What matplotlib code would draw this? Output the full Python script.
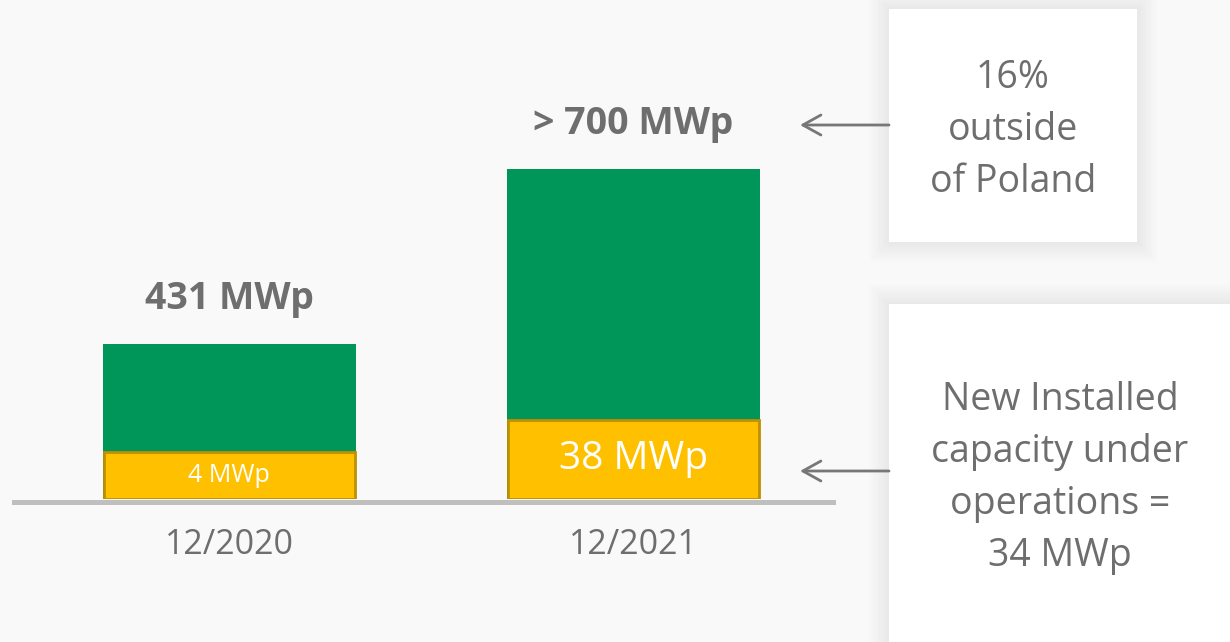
import matplotlib.pyplot as plt
from matplotlib.patches import Rectangle

# schematic chart: bar heights are read off the picture (not to scale)
periods = ['12/2020', '12/2021']
total_labels = ['431 MWp', '> 700 MWp']
new_labels = ['4 MWp', '38 MWp']
total_height = [155, 330]
new_height = [47, 79]

note_top = '16%\noutside\nof Poland'
note_bottom = 'New Installed\ncapacity under\noperations =\n34 MWp'

GREEN = '#00965a'
YELLOW = '#ffc000'
YELLOW_EDGE = '#bf9000'
GREY_TXT = '#6e6e6e'
BG = '#f9f9f9'

plt.rcParams['font.family'] = ['Open Sans', 'DejaVu Sans']


def shadow_box(ax, x, y, w, h):
    # soft shadow made of a few faint, growing rectangles
    for i in range(8, 0, -1):
        ax.add_patch(Rectangle((x - i * 2.5, y - i * 2.5), w + i * 5, h + i * 5,
                               facecolor='black', edgecolor='none', alpha=0.008))
    ax.add_patch(Rectangle((x, y), w, h, facecolor='white', edgecolor='none'))


def main():
    fig = plt.figure(figsize=(12.3, 6.42), dpi=100, facecolor=BG)

    # bars
    ax = fig.add_axes([14 / 1230, 143 / 642, 819 / 1230, 499 / 642])
    ax.set_facecolor('none')
    x = range(len(periods))
    ax.bar(x, total_height, width=0.625, color=GREEN, zorder=3)
    ax.bar(x, new_height, width=0.62, color=YELLOW, edgecolor=YELLOW_EDGE,
           linewidth=2, zorder=4)
    for i in x:
        ax.annotate(total_labels[i], (i, total_height[i]), xytext=(0, 25),
                    textcoords='offset points', ha='center', va='baseline',
                    fontsize=27, fontweight='bold', color=GREY_TXT)
        ax.text(i, new_height[i] / 2, new_labels[i], ha='center', va='center',
                fontsize=18 if i == 0 else 28, color='white', zorder=5)
    ax.set_xlim(-0.533, 1.494)
    ax.set_ylim(0, 499)
    for s in ['top', 'left', 'right']:
        ax.spines[s].set_visible(False)
    ax.spines['bottom'].set_color('#bfbfbf')
    ax.spines['bottom'].set_linewidth(3.6)
    ax.spines['bottom'].set_position(('outward', 2))
    ax.set_yticks([])
    ax.set_xticks(list(x), periods)
    ax.tick_params(axis='x', length=0, pad=19, labelsize=24.5, labelcolor=GREY_TXT)

    # notes on the right, in pixel coordinates
    ov = fig.add_axes([0, 0, 1, 1])
    ov.set_xlim(0, 1230)
    ov.set_ylim(642, 0)
    ov.axis('off')
    ov.set_facecolor('none')
    shadow_box(ov, 889, 9, 248, 233)
    shadow_box(ov, 889, 304, 360, 360)
    ov.text(1013, 130, note_top, ha='center', va='center', fontsize=27,
            color=GREY_TXT, linespacing=1.48)
    ov.text(1060, 478, note_bottom, ha='center', va='center', fontsize=27,
            color=GREY_TXT, linespacing=1.48)
    arrow = dict(arrowstyle='->, head_length=0.65, head_width=0.36', lw=2,
                 color='#777777', shrinkA=0, shrinkB=0, mutation_scale=20)
    ov.annotate('', xy=(800, 125), xytext=(889, 125), arrowprops=arrow)
    ov.annotate('', xy=(800, 471), xytext=(889, 471), arrowprops=arrow)

    fig.savefig('out.png', dpi=100, facecolor=BG)


if __name__ == '__main__':
    main()
